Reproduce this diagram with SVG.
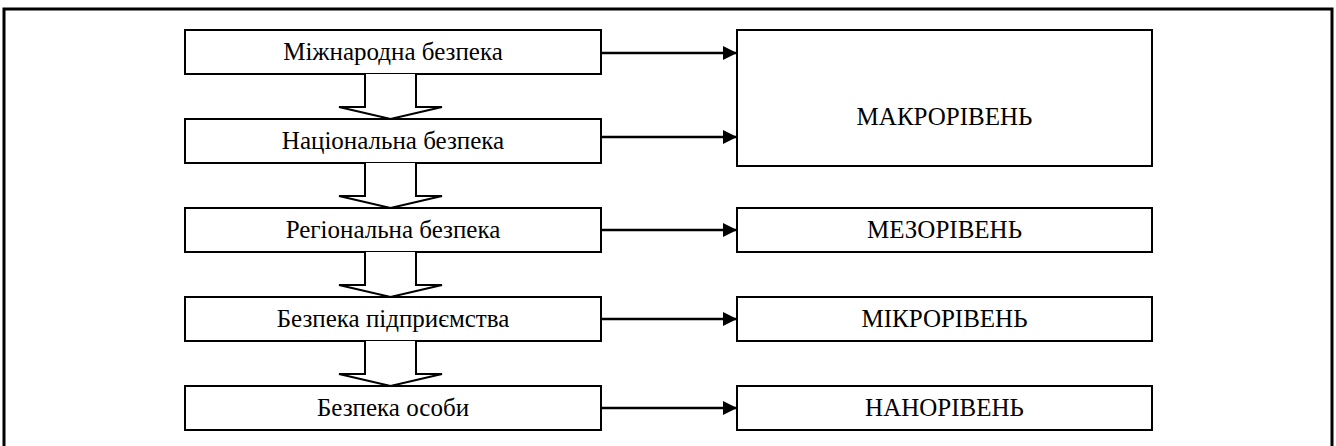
<svg xmlns="http://www.w3.org/2000/svg" width="1336" height="446" viewBox="0 0 1336 446">
<style>
.box{fill:#fff;stroke:#000;stroke-width:2}
.t{font-family:'Liberation Serif','Tinos','Times New Roman','DejaVu Serif',serif;font-size:25px;fill:#000;text-anchor:middle}
.blk{fill:#fff;stroke:#000;stroke-width:2;stroke-linejoin:miter}
.ln{stroke:#000;stroke-width:2.5;fill:none}
</style>
<defs>
<marker id="ah" markerUnits="userSpaceOnUse" markerWidth="15" markerHeight="14" refX="14" refY="7" orient="auto">
<path d="M0,0 L14,7 L0,14 Z" fill="#000"/>
</marker>
</defs>
<rect width="1336" height="446" fill="#fff"/>
<path d="M4,450 V9 H1332 V450" fill="none" stroke="#000" stroke-width="3"/>
<g id="n1"><rect class="box" x="185" y="30" width="416" height="44"/><text class="t" x="393" y="60">Міжнародна безпека</text></g>
<g id="n2"><rect class="box" x="185" y="119" width="416" height="44"/><text class="t" x="393" y="149">Національна безпека</text></g>
<g id="n3"><rect class="box" x="185" y="208" width="416" height="44"/><text class="t" x="393" y="238">Регіональна безпека</text></g>
<g id="n4"><rect class="box" x="185" y="297" width="416" height="44"/><text class="t" x="393" y="327">Безпека підприємства</text></g>
<g id="n5"><rect class="box" x="185" y="386" width="416" height="44"/><text class="t" x="393" y="416">Безпека особи</text></g>
<g id="macro"><rect class="box" x="737" y="30" width="415" height="136"/><text class="t" x="944.5" y="125">МАКРОРІВЕНЬ</text></g>
<g id="meso"><rect class="box" x="737" y="208" width="415" height="44"/><text class="t" x="944.5" y="238">МЕЗОРІВЕНЬ</text></g>
<g id="micro"><rect class="box" x="737" y="297" width="415" height="44"/><text class="t" x="944.5" y="327">МІКРОРІВЕНЬ</text></g>
<g id="nano"><rect class="box" x="737" y="386" width="415" height="44"/><text class="t" x="944.5" y="416">НАНОРІВЕНЬ</text></g>
<g id="connectors">
<path class="blk" d="M365,74 V107 H339 L390.5,119 L442,107 H416 V74"/>
<path class="blk" d="M365,163 V196 H339 L390.5,208 L442,196 H416 V163"/>
<path class="blk" d="M365,252 V285 H339 L390.5,297 L442,285 H416 V252"/>
<path class="blk" d="M365,341 V374 H339 L390.5,386 L442,374 H416 V341"/>
<line class="ln" x1="601" y1="53" x2="737" y2="53" marker-end="url(#ah)"/>
<line class="ln" x1="601" y1="137" x2="737" y2="137" marker-end="url(#ah)"/>
<line class="ln" x1="601" y1="230" x2="737" y2="230" marker-end="url(#ah)"/>
<line class="ln" x1="601" y1="319" x2="737" y2="319" marker-end="url(#ah)"/>
<line class="ln" x1="601" y1="408" x2="737" y2="408" marker-end="url(#ah)"/>
</g>
</svg>
